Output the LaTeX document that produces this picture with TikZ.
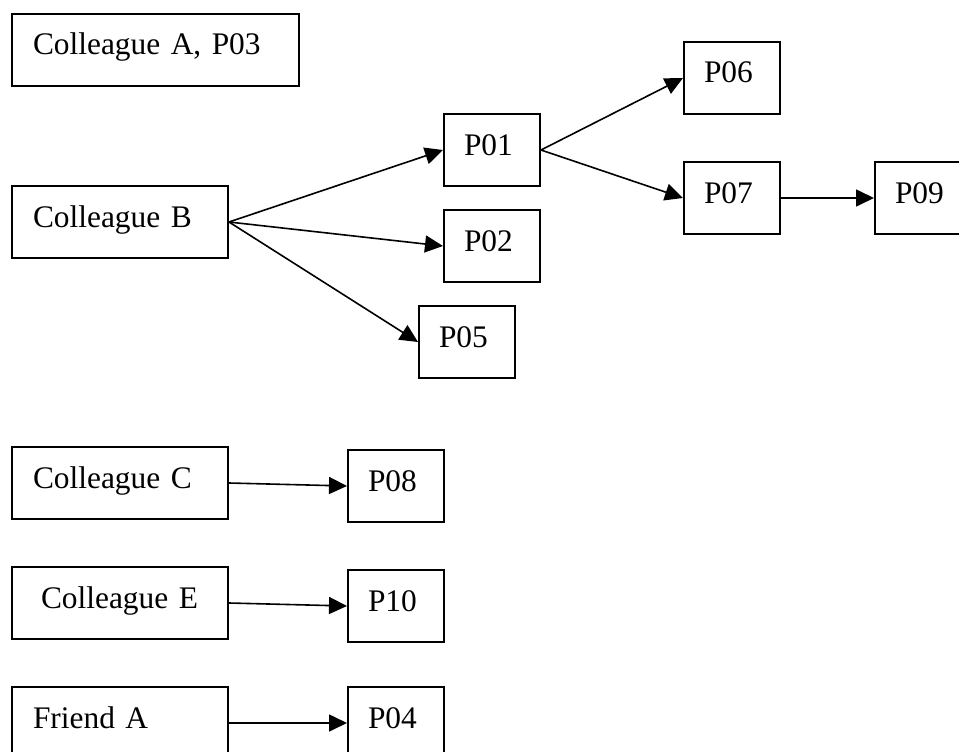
\documentclass[tikz,border=0pt]{standalone}
\usepackage{fontspec}
\setmainfont{Liberation Serif}
\usetikzlibrary{arrows.meta}
\tikzset{
	pbox/.style={draw, line width=2pt, anchor=north west, inner xsep=20pt, inner ysep=0pt,
		text height=41pt, text depth=31pt, align=left, font=\fontsize{31.4}{36}\selectfont},
	pnum/.style={pbox, text width=56pt},
	pname/.style={pbox, inner xsep=21pt, text width=174pt},
	arr/.style={-{Triangle[length=18pt,width=17pt]}, line width=1.6pt}
}
\begin{document}
\begin{tikzpicture}[x=1pt,y=1pt]
	\useasboundingbox (0,0) rectangle (959,-752);
	% people
	\node[pbox, inner xsep=21pt, text width=245pt] (colA) at (11,-13) {Colleague A, P03};
	\node[pname] (colB) at (11,-185) {Colleague B};
	\node[pname] (colC) at (11,-446) {Colleague C};
	\node[pname, inner xsep=29pt, text width=158pt] (colE) at (11,-566) {Colleague E};
	\node[pname] (friendA) at (11,-686) {Friend A};
	% papers
	\node[pnum] (p01) at (443,-113) {P01};
	\node[pnum] (p02) at (443,-209) {P02};
	\node[pnum] (p05) at (418,-305) {P05};
	\node[pnum] (p06) at (683,-41) {P06};
	\node[pnum] (p07) at (683,-161) {P07};
	\node[pnum] (p09) at (874,-161) {P09};
	\node[pnum] (p08) at (347,-449) {P08};
	\node[pnum] (p10) at (347,-569) {P10};
	\node[pnum] (p04) at (347,-686) {P04};
	% links
	\draw[arr] (colB.east) -- (p01.west);
	\draw[arr] (colB.east) -- (p02.west);
	\draw[arr] (colB.east) -- (p05.west);
	\draw[arr] (p01.east) -- (p06.west);
	\draw[arr] (p01.east) -- (p07.west);
	\draw[arr] (p07.east) -- (p09.west);
	\draw[arr] (colC.east) -- (p08.west);
	\draw[arr] (colE.east) -- (p10.west);
	\draw[arr] (friendA.east) -- (p04.west);
\end{tikzpicture}
\end{document}
